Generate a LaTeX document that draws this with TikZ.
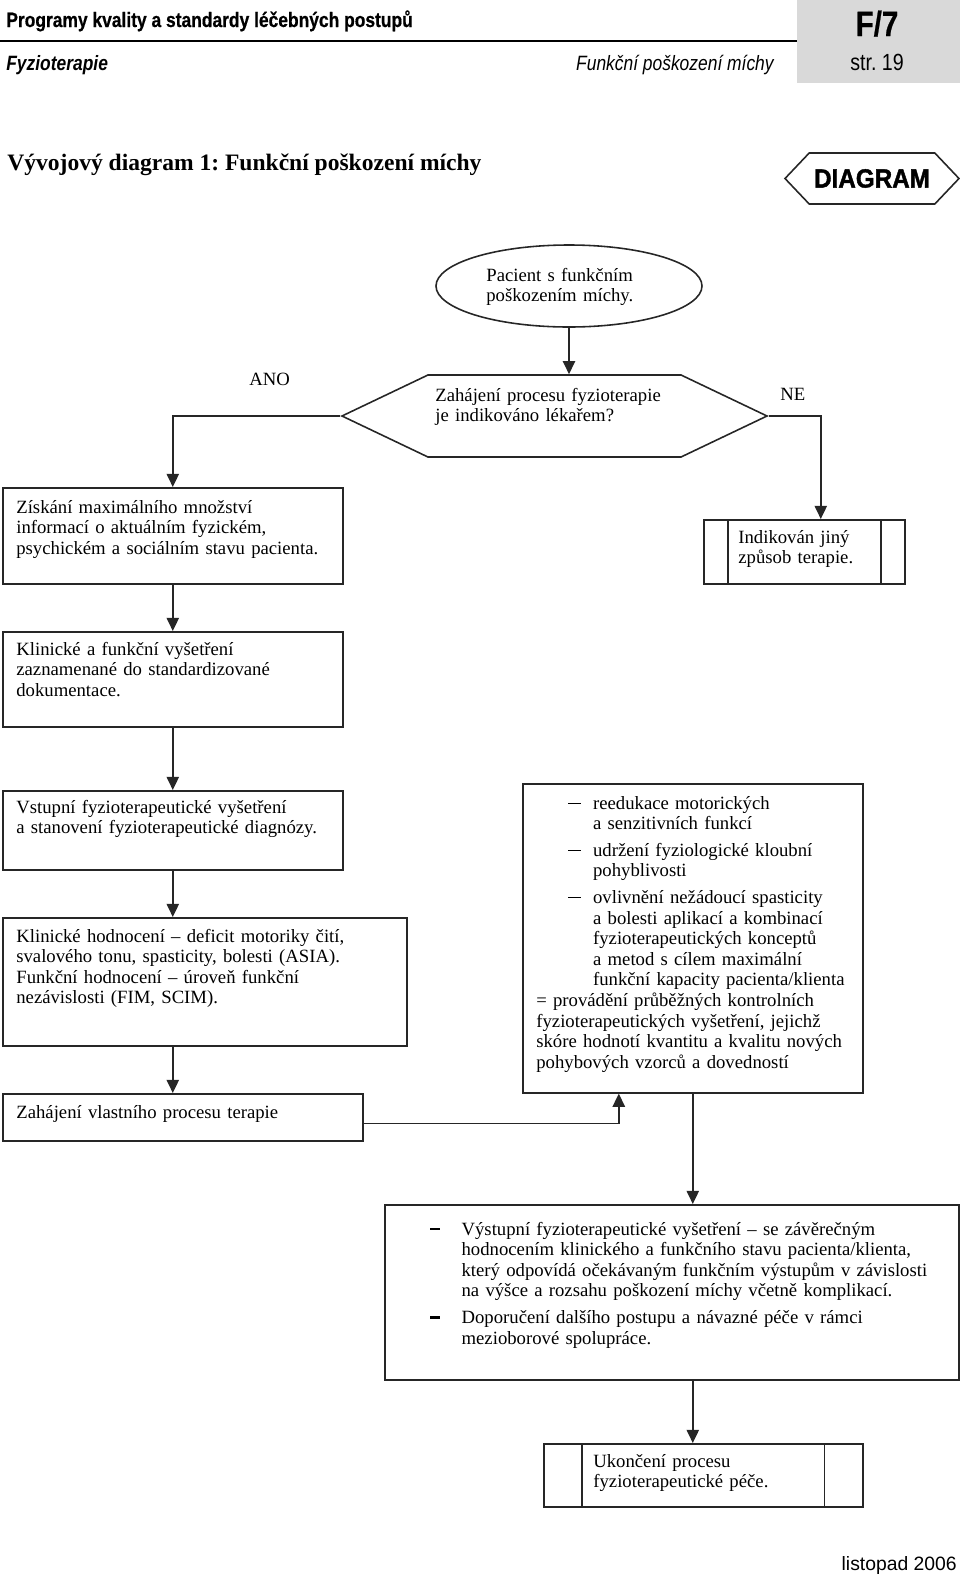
\documentclass[tikz,border=0pt]{standalone}
\usepackage{fontspec}
\setmainfont{Liberation Serif}
\newfontfamily\hlavfont[FakeStretch=0.84,BoldFeatures={FakeBold=0.6}]{Liberation Sans}
\newfontfamily\znackafont[FakeStretch=0.92,BoldFeatures={FakeBold=1.5}]{Liberation Sans}
\newfontfamily\sansfont{Liberation Sans}
\usetikzlibrary{arrows.meta,shapes.geometric,shapes.symbols}
\frenchspacing
\newcommand\pol[1]{\hspace*{18.1pt}\rule[3.1pt]{7.4pt}{0.55pt}\hspace*{6.8pt}#1}
\newcommand\pok{\hspace*{32.3pt}}
\newcommand\odr[1]{\rule[2.8pt]{5.7pt}{1.2pt}\hspace*{12.1pt}#1}
\newcommand\odp{\hspace*{17.8pt}}
\tikzset{
  blok/.style 2 args={draw=black!85,line width=0.9pt,rectangle,anchor=north west,inner sep=0pt,minimum width=#1*0.02cm,minimum height=#2*0.02cm},
  dvoj/.style={path picture={\draw[line width=0.9pt,black!85]([xshift=#1]path picture bounding box.north west)--([xshift=#1]path picture bounding box.south west)([xshift=-#1]path picture bounding box.north east)--([xshift=-#1]path picture bounding box.south east);}},
  txt/.style={font=\fontsize{10.65}{11.73}\selectfont,anchor=base west,inner sep=0pt,text width=11cm,align=left},
  hlav/.style={font=\fontsize{11.8}{14}\hlavfont,anchor=base west,inner sep=0pt},
  sesti/.style={draw=black!85,line width=0.9pt,signal,signal to=west and east,inner sep=0pt},
  sip/.style={draw=black!85,line width=0.9pt,-{Triangle[width=7pt,length=7.5pt]}}
}
\begin{document}
\begin{tikzpicture}[x=0.02cm,y=-0.02cm]
\useasboundingbox (0,0) rectangle (960,1576);
% hlavicka
\fill[black!15](797,0) rectangle (960,82.5);
\draw[line width=1.4pt](0,41)--(797,41);
\node[hlav](program) at (6,27) {\bfseries Programy kvality a standardy léčebných postupů};
\node[hlav](obor) at (6,70) {\bfseries\itshape Fyzioterapie};
\node[hlav,anchor=base east](tema) at (774,70) {\itshape Funkční poškození míchy};
\node[hlav,anchor=base,font=\fontsize{20}{22}\hlavfont\bfseries](kod) at (877,36) {F/7};
\node[hlav,anchor=base,font=\fontsize{13.3}{15}\hlavfont](strana) at (877,70) {str. 19};
\node[anchor=base west,inner sep=0pt,font=\fontsize{13.4}{16}\selectfont\bfseries](nadpis) at (7,170) {Vývojový diagram 1: Funkční poškození míchy};
\node[sesti,signal pointer angle=93,minimum width=174*0.02cm,minimum height=51*0.02cm,font=\fontsize{15}{17}\znackafont\bfseries](diagram) at (872,178.5) {DIAGRAM};
% diagram
\node[ellipse,draw=black!85,line width=0.9pt,inner sep=0pt,minimum width=266*0.02cm,minimum height=82*0.02cm](pacient) at (569,286) {};
\node[txt](pacienttxt) at (486,281) {Pacient s funkčním\\poškozením míchy.};
\node[sesti,signal pointer angle=51,minimum width=425*0.02cm,minimum height=82*0.02cm](rozhod) at (554.5,416) {};
\node[txt](rozhodtxt) at (435,401) {Zahájení procesu fyzioterapie\\je indikováno lékařem?};
\node[txt](ano) at (249,385) {ANO};
\node[txt](ne) at (780,400) {NE};
\node[blok={340}{96}](ziskani) at (2,487) {};
\node[txt](ziskanitxt) at (16,513) {Získání maximálního množství\\informací o aktuálním fyzickém,\\psychickém a sociálním stavu pacienta.};
\node[blok={201}{64},dvoj=0.48cm](jiny) at (703,519) {};
\node[txt](jinytxt) at (738,543) {Indikován jiný\\způsob terapie.};
\node[blok={340}{95}](klinicke) at (2,631) {};
\node[txt](klinicketxt) at (16,655) {Klinické a funkční vyšetření\\zaznamenané do standardizované\\dokumentace.};
\node[blok={340}{79}](vstupni) at (2,790) {};
\node[txt](vstupnitxt) at (16,813) {Vstupní fyzioterapeutické vyšetření\\a stanovení fyzioterapeutické diagnózy.};
\node[blok={404}{128}](hodnoceni) at (2,917) {};
\node[txt](hodnocenitxt) at (16,942) {Klinické hodnocení – deficit motoriky čití,\\svalového tonu, spasticity, bolesti (ASIA).\\Funkční hodnocení – úroveň funkční\\nezávislosti (FIM, SCIM).};
\node[blok={360}{47}](zahajeni) at (2,1093) {};
\node[txt](zahajenitxt) at (16,1118) {Zahájení vlastního procesu terapie};
\node[blok={340}{309}](terapie) at (522,783) {};
\node[txt](terapietxt) at (536,809) {\pol{reedukace motorických}\\\pok a senzitivních funkcí\\[3.4pt]
\pol{udržení fyziologické kloubní}\\\pok pohyblivosti\\[3.4pt]
\pol{ovlivnění nežádoucí spasticity}\\\pok a bolesti aplikací a kombinací\\\pok fyzioterapeutických konceptů\\\pok a metod s cílem maximální\\\pok funkční kapacity pacienta/klienta\\
= provádění průběžných kontrolních\\fyzioterapeutických vyšetření, jejichž\\skóre hodnotí kvantitu a kvalitu nových\\pohybových vzorců a dovedností};
\node[blok={574}{175}](vystupni) at (384,1204) {};
\node[txt](vystupnitxt) at (430,1235) {\odr{Výstupní fyzioterapeutické vyšetření – se závěrečným}\\\odp hodnocením klinického a funkčního stavu pacienta/klienta,\\\odp který odpovídá očekávaným funkčním výstupům v závislosti\\\odp na výšce a rozsahu poškození míchy včetně komplikací.\\[3.4pt]
\odr{Doporučení dalšího postupu a návazné péče v rámci}\\\odp mezioborové spolupráce.};
\node[blok={319}{63},dvoj=0.77cm](ukonceni) at (543,1443) {};
\node[txt](ukoncenitxt) at (593,1467) {Ukončení procesu\\fyzioterapeutické péče.};
% spojnice
\draw[sip](pacient.south)--(pacient.south|-rozhod.north);
\draw[sip](rozhod.west)-|(ziskani.north);
\draw[sip](rozhod.east)-|([shift={(16.5,0)}]jiny.north);
\draw[sip](ziskani.south)--(klinicke.north);
\draw[sip](klinicke.south)--(vstupni.north);
\draw[sip](vstupni.south)--(vstupni.south|-hodnoceni.north);
\draw[sip](hodnoceni.south-|ziskani.south)--(zahajeni.north-|ziskani.south);
\draw[sip]([shift={(0,6)}]zahajeni.east)-|([shift={(-74,0)}]terapie.south);
\draw[sip](terapie.south)--(terapie.south|-vystupni.north);
\draw[sip](terapie.south|-vystupni.south)--(terapie.south|-ukonceni.north);
% paticka
\node[anchor=base east,inner sep=0pt,font=\fontsize{11}{13}\sansfont](datum) at (957,1570) {listopad 2006};
\end{tikzpicture}
\end{document}
